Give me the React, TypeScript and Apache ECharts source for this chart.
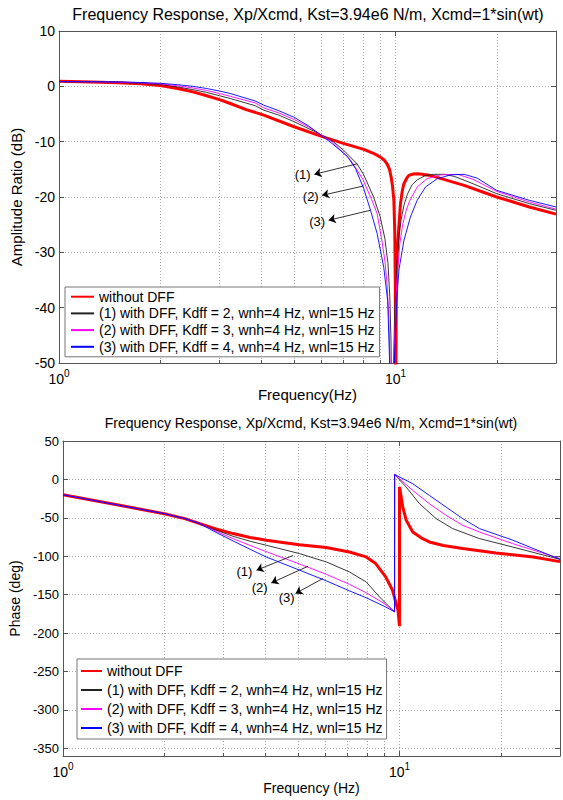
import React, { useEffect, useRef } from "react";
import * as echarts from "echarts";

// ---------- data (frequency Hz, value) ----------
const seriesNames = [
  "without DFF",
  "(1) with DFF, Kdff = 2, wnh=4 Hz, wnl=15 Hz",
  "(2) with DFF, Kdff = 3, wnh=4 Hz, wnl=15 Hz",
  "(3) with DFF, Kdff = 4, wnh=4 Hz, wnl=15 Hz",
];
const seriesColors = ["#ff0000", "#222222", "#ff00ff", "#0000ff"];

const ampNoDFF: [number, number][] = [
  [1, 0.9], [1.25, 0.8], [1.5, 0.65], [1.75, 0.45], [2, 0.15], [2.25, -0.4], [2.5, -1.0],
  [2.75, -1.7], [3, -2.4], [3.23, -3.1], [3.6, -4.2], [4.06, -5.2], [5, -7.3], [6, -9.0],
  [7, -10.3], [8.05, -11.4], [8.6, -12.1], [9.02, -12.8], [9.25, -13.3], [9.44, -14.0],
  [9.6, -15.0], [9.71, -16.4], [9.8, -18.0], [9.89, -20.6], [9.95, -26], [9.99, -36],
  [10.02, -60], [10.06, -36], [10.12, -30], [10.23, -25.5], [10.35, -21.2], [10.47, -19.0],
  [10.59, -17.6], [10.8, -16.6], [10.96, -16.1], [11.3, -15.85], [11.6, -15.8], [12.0, -15.9],
  [12.7, -16.1], [14.25, -17.0], [16, -17.9], [20, -20.0], [25, -21.8], [30, -23.1],
];
const ampKdff2: [number, number][] = [
  [1, 0.85], [1.25, 0.8], [1.5, 0.7], [1.75, 0.55], [2, 0.35], [2.25, -0.1], [2.5, -0.6],
  [2.75, -1.1], [3, -1.7], [3.23, -2.2], [3.83, -3.5], [4.06, -4.3], [4.5, -5.2], [5, -6.4],
  [5.5, -7.6], [6, -8.7], [6.5, -9.9], [7, -11.5], [7.69, -14.0], [8.05, -16.0], [8.61, -20.0],
  [9.0, -23.5], [9.3, -27.5], [9.5, -32], [9.62, -38], [9.7, -46], [9.77, -65], [9.85, -52],
  [9.95, -41], [10.1, -32], [10.25, -27], [10.4, -24], [10.6, -21.5], [10.85, -19.5],
  [11.2, -17.8], [11.6, -16.9], [12.2, -16.2], [13.0, -15.9], [14.0, -15.9], [15, -16.3],
  [17, -17.6], [20, -19.4], [25, -21.2], [30, -22.4],
];
const ampKdff3: [number, number][] = [
  [1, 0.85], [1.25, 0.82], [1.5, 0.75], [1.75, 0.62], [2, 0.45], [2.25, 0.1], [2.5, -0.3],
  [2.75, -0.75], [3, -1.3], [3.23, -1.8], [3.83, -3.0], [4.06, -3.9], [4.5, -4.8], [5, -6.0],
  [5.5, -7.3], [6, -8.75], [6.5, -10.1], [7, -12.0], [7.35, -13.3], [8.0, -16.8], [8.5, -20.5],
  [8.82, -23], [9.12, -28], [9.3, -31.5], [9.44, -35.7], [9.56, -42], [9.65, -52], [9.74, -65],
  [9.83, -55], [9.95, -45], [10.1, -35], [10.3, -28.5], [10.5, -25], [10.75, -22.5],
  [11.0, -20.8], [11.6, -18.2], [12.4, -16.7], [13.6, -16.0], [15.3, -15.9], [17, -16.8],
  [20, -19.0], [25, -20.9], [30, -22.2],
];
const ampKdff4: [number, number][] = [
  [1, 0.85], [1.25, 0.84], [1.5, 0.8], [1.75, 0.7], [2, 0.55], [2.25, 0.3], [2.5, 0.0],
  [2.75, -0.4], [3, -0.85], [3.23, -1.3], [3.83, -2.65], [4.06, -3.4], [4.5, -4.4], [5, -5.6],
  [5.5, -7.1], [6, -8.8], [6.5, -10.4], [7.18, -12.6], [7.6, -14.8], [8.05, -18.5],
  [8.43, -22.4], [8.82, -26.6], [9.23, -32.7], [9.48, -38.7], [9.61, -50], [9.72, -65],
  [9.83, -58], [9.95, -48], [10.1, -38], [10.25, -33], [10.6, -27.8], [11.08, -23.6],
  [11.6, -20.6], [12.28, -18.2], [13.3, -16.7], [14.58, -16.0], [16, -15.9], [17.5, -16.6],
  [20, -18.8], [25, -20.6], [30, -21.8],
];

const phaseNoDFF: [number, number][] = [
  [1, -20], [1.5, -34.4], [2, -44.6], [2.3, -51], [2.55, -57.6], [2.85, -64.5], [3.2, -70.5],
  [3.6, -75.5], [4.02, -79.2], [5.04, -84.9], [6.06, -88.7], [7.1, -94.4], [7.96, -100.9],
  [8.5, -109.5], [9.1, -126.9], [9.53, -144], [9.9, -170], [10.0, -191], [10.005, -10],
  [10.23, -36], [10.47, -53], [10.95, -68.4], [11.6, -76], [12.27, -81.4], [13.5, -86],
  [15.41, -90], [19.36, -95.7], [25, -101], [30, -107],
];
const phaseKdff2: [number, number][] = [
  [1, -20], [1.5, -34.4], [2, -44.6], [2.3, -51], [2.55, -57.6], [2.85, -66], [3.2, -74],
  [3.6, -80.5], [4.02, -85.7], [5.04, -96.5], [6.06, -107.4], [7.1, -120.4], [7.96, -133.4],
  [8.72, -152.8], [9.33, -165.8], [9.67, -172.3], [9.675, 6.5], [10.47, -10], [11.47, -31.6],
  [12.85, -51], [14.39, -64], [17.28, -77], [21.69, -88], [30, -104],
];
const phaseKdff3: [number, number][] = [
  [1, -20], [1.5, -34.4], [2, -44.6], [2.3, -51], [2.55, -57.6], [2.85, -67.5], [3.2, -77],
  [3.6, -86], [4.02, -94], [5.04, -110], [6.06, -123.5], [7.1, -136.5], [7.96, -147.5],
  [9.0, -161.4], [9.67, -172.3], [9.675, 6.5], [10.95, -14.3], [12.27, -31.6], [13.76, -46.8],
  [15.41, -59.7], [17.28, -68.4], [21.69, -83.5], [30, -103],
];
const phaseKdff4: [number, number][] = [
  [1, -20], [1.5, -34.4], [2, -44.6], [2.3, -51], [2.55, -57.6], [2.85, -69], [3.2, -80],
  [3.6, -91], [4.02, -101], [5.04, -118], [6.06, -132], [7.1, -145], [7.96, -154],
  [9.0, -165], [9.67, -172.3], [9.675, 6.5], [10.95, -5.6], [12.27, -20.8], [13.76, -36],
  [15.41, -51], [17.28, -64], [21.69, -79], [30, -104],
];

const minorGridFreqs = [2, 3, 4, 5, 6, 7, 8, 9, 20];
const freqRange = { min: 1, max: 30 };
const ampRange = { min: -50, max: 10 };
const phaseRange = { min: -360, max: 50 };

// annotation arrows: curve point -> arrow head, and label position (data units)
const ampAnnot = [
  { label: "(1)", from: [7.69, -14.0], to: [5.74, -15.9], text: [5.3, -15.9] },
  { label: "(2)", from: [8.05, -18.0], to: [6.05, -19.7], text: [5.6, -19.9] },
  { label: "(3)", from: [8.43, -22.4], to: [6.33, -24.2], text: [5.85, -24.5] },
];
const phaseAnnot = [
  { label: "(1)", from: [4.83, -99], to: [3.76, -118.2], text: [3.46, -120.4] },
  { label: "(2)", from: [5.35, -113], to: [4.16, -134.7], text: [3.84, -140.3] },
  { label: "(3)", from: [5.92, -129], to: [4.91, -148.4], text: [4.62, -154.2] },
];

const titleText = "Frequency Response, Xp/Xcmd, Kst=3.94e6 N/m, Xcmd=1*sin(wt)";

// ---------- styling ----------
const FONT = "'Liberation Sans', Arial, Helvetica, sans-serif";
const AX = "#555";
const GRID = "#a8a8a8";

function logLabel(v: number) {
  const p = Math.round(Math.log10(v));
  const pw = Math.pow(10, p);
  return Math.abs(v - pw) < 1e-6 * pw ? `{b|10}{s|${p}}` : "";
}

const rich = {
  b: { fontSize: 14, lineHeight: 22, fontFamily: FONT, color: "#000", verticalAlign: "middle" },
  s: { fontSize: 10, lineHeight: 8, fontFamily: FONT, color: "#000", verticalAlign: "top" },
};

function xAxisPair(gridIndex: number, name: string, nameGap: number, nameSize: number) {
  return [
    {
      type: "log", logBase: 10, gridIndex, ...freqRange, position: "bottom",
      axisLine: { show: true, onZero: false, lineStyle: { color: AX } },
      axisTick: { show: true, inside: true, length: 5, lineStyle: { color: AX } },
      axisLabel: { formatter: logLabel, margin: 5, rich },
      splitLine: { show: true, lineStyle: { type: [1, 2], color: GRID } },
      name, nameLocation: "middle", nameGap,
      nameTextStyle: { fontSize: nameSize, fontFamily: FONT, color: "#000" },
    },
    {
      type: "log", logBase: 10, gridIndex, ...freqRange, position: "top",
      axisLine: { show: true, onZero: false, lineStyle: { color: AX } },
      axisTick: { show: true, inside: true, length: 5, lineStyle: { color: AX } },
      axisLabel: { show: false }, splitLine: { show: false },
    },
  ];
}

// hidden linear axis in log10 units, only carrying the minor log gridlines
function minorGridAxis(gridIndex: number) {
  const vals = minorGridFreqs.map((f) => Math.log10(f));
  return {
    type: "value", gridIndex, min: Math.log10(freqRange.min), max: Math.log10(freqRange.max),
    position: "bottom",
    axisLine: { show: false, onZero: false },
    axisTick: { show: true, inside: true, length: 3, lineStyle: { color: AX }, customValues: vals },
    axisLabel: { show: false, customValues: vals },
    splitLine: { show: true, lineStyle: { type: [1, 2], color: GRID } },
  };
}

function yAxisPair(gridIndex: number, range: any, name: string, nameGap: number, nameSize: number, labelSize: number, showMin: boolean) {
  return [
    {
      type: "value", gridIndex, position: "left", ...range,
      axisLine: { show: true, onZero: false, lineStyle: { color: AX } },
      axisTick: { show: true, inside: true, length: 5, lineStyle: { color: AX } },
      axisLabel: { margin: 4, fontSize: labelSize, fontFamily: FONT, color: "#000", showMinLabel: showMin },
      splitLine: { show: true, lineStyle: { type: [1, 2], color: GRID } },
      name, nameLocation: "middle", nameGap,
      nameTextStyle: { fontSize: nameSize, fontFamily: FONT, color: "#000" },
    },
    {
      type: "value", gridIndex, position: "right", ...range,
      axisLine: { show: true, onZero: false, lineStyle: { color: AX } },
      axisTick: { show: true, inside: true, length: 5, lineStyle: { color: AX } },
      axisLabel: { show: false }, splitLine: { show: false },
    },
  ];
}

function curve(idx: number, data: [number, number][], xi: number, yi: number, extra: any = {}) {
  const color = seriesColors[idx];
  return {
    type: "line", name: seriesNames[idx], data, xAxisIndex: xi, yAxisIndex: yi,
    symbol: "none", showSymbol: false, clip: true, silent: true, z: 2 + idx,
    lineStyle: { color, width: idx === 0 ? 3 : 0.9 }, itemStyle: { color },
    ...extra,
  };
}

function annotations(list: any[]) {
  return {
    markLine: {
      silent: true, symbol: ["none", "arrow"], symbolSize: 7, label: { show: false },
      lineStyle: { color: "#000", width: 0.8, type: "solid" },
      data: list.map((a) => [{ coord: a.from }, { coord: a.to }]),
    },
    markPoint: {
      silent: true, symbol: "rect", symbolSize: 1, itemStyle: { color: "rgba(0,0,0,0)" },
      label: { show: true, position: "inside", formatter: "{b}", fontSize: 13, fontFamily: FONT, color: "#000" },
      data: list.map((a) => ({ name: a.label, coord: a.text })),
    },
  };
}

function legend(left: number, top: number, gap: number, pad: number[], iw: number) {
  return {
    orient: "vertical", left, top, data: seriesNames, selectedMode: false,
    itemWidth: iw, itemHeight: 12, itemGap: gap, padding: pad,
    borderColor: "#777", borderWidth: 1, backgroundColor: "#fff",
    itemStyle: { color: "rgba(0,0,0,0)", borderWidth: 0, opacity: 0 },
    textStyle: { fontSize: 14, lineHeight: 14, fontFamily: FONT, color: "#000" },
  };
}

export default function App() {
  const ref = useRef<HTMLDivElement>(null);
  useEffect(() => {
    if (!ref.current) return;
    const chart = echarts.init(ref.current, null, { renderer: "svg" });
    const option: any = {
      animation: false,
      backgroundColor: "#fff",
      title: [
        { text: titleText, left: 308, top: 6, textAlign: "center", padding: 0,
          textStyle: { fontSize: 16, fontWeight: "normal", fontFamily: FONT, color: "#000" } },
        { text: titleText, left: 311, top: 416, textAlign: "center", padding: 0,
          textStyle: { fontSize: 14, fontWeight: "normal", fontFamily: FONT, color: "#000" } },
      ],
      grid: [
        { left: 59, top: 31, width: 497, height: 332 },
        { left: 63, top: 441, width: 497, height: 315 },
      ],
      xAxis: [
        ...xAxisPair(0, "Frequency(Hz)", 23, 15),
        ...xAxisPair(1, "Frequency (Hz)", 25, 14),
        minorGridAxis(0),
        minorGridAxis(1),
      ],
      yAxis: [
        ...yAxisPair(0, { ...ampRange, interval: 10 }, "Amplitude Ratio (dB)", 26, 15, 14, true),
        ...yAxisPair(1, { ...phaseRange, splitNumber: 8 }, "Phase (deg)", 29, 14, 13, false),
      ],
      legend: [
        legend(65, 287, 2.7, [2.7, 5, 3, 5], 23),
        legend(77, 659, 5, [5, 4, 4, 3], 21),
      ],
      series: [
        curve(0, ampNoDFF, 0, 0),
        curve(1, ampKdff2, 0, 0, annotations(ampAnnot)),
        curve(2, ampKdff3, 0, 0),
        curve(3, ampKdff4, 0, 0),
        curve(0, phaseNoDFF, 2, 2),
        curve(1, phaseKdff2, 2, 2, annotations(phaseAnnot)),
        curve(2, phaseKdff3, 2, 2),
        curve(3, phaseKdff4, 2, 2),
      ],
    };
    chart.setOption(option);
    return () => chart.dispose();
  }, []);
  return (
    <div
      ref={ref}
      style={{ position: "absolute", left: 0, top: 0, width: 563, height: 800, background: "#fff" }}
    />
  );
}
